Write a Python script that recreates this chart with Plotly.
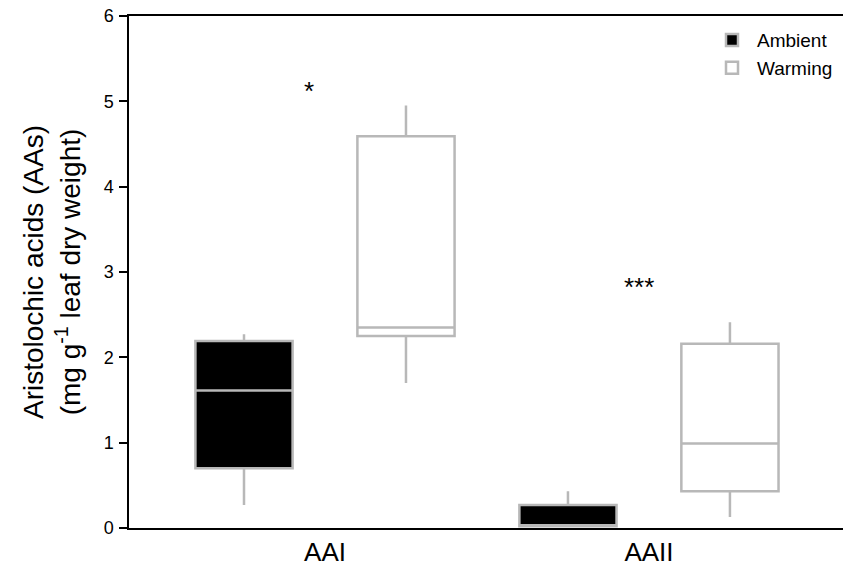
import plotly.graph_objects as go

categories = ["AAI", "AAII"]
series = ["Ambient", "Warming"]
# box statistics per series (order matches categories)
ambient_low = [0.27, 0.01]
ambient_q1 = [0.70, 0.02]
ambient_med = [1.61, 0.02]
ambient_q3 = [2.19, 0.27]
ambient_high = [2.27, 0.43]

warming_low = [1.70, 0.13]
warming_q1 = [2.25, 0.43]
warming_med = [2.35, 0.99]
warming_q3 = [4.59, 2.16]
warming_high = [4.95, 2.41]

sig_labels = ["*", "***"]
sig_y = [5.12, 2.82]

y_ticks = [0, 1, 2, 3, 4, 5, 6]

GRAY = "#b8b8b8"
FONT = "Liberation Sans, Arial, sans-serif"

# layout parameters: category slots on a numeric axis, series offset within slot
cat_idx = list(range(len(categories)))
series_offset = {"Ambient": -0.25, "Warming": 0.25}
box_w = 0.3

stats = {
    "Ambient": (ambient_low, ambient_q1, ambient_med, ambient_q3, ambient_high, "black"),
    "Warming": (warming_low, warming_q1, warming_med, warming_q3, warming_high, "white"),
}

fig = go.Figure()
for name in series:
    lo, q1, med, q3, hi, fill = stats[name]
    fig.add_trace(go.Box(
        name=name, x=[i + series_offset[name] for i in cat_idx],
        lowerfence=lo, q1=q1, median=med, q3=q3, upperfence=hi,
        width=box_w,
        fillcolor=fill, line=dict(color=GRAY, width=2.5),
        whiskerwidth=0, boxpoints=False, hoverinfo="skip",
    ))

shifts = [-0.05, -0.03]
for i, lab, yy, sh in zip(cat_idx, sig_labels, sig_y, shifts):
    fig.add_annotation(x=i + sh, y=yy, text=lab, showarrow=False,
                       font=dict(family=FONT, size=26, color="black"))

fig.update_layout(
    width=843, height=564,
    margin=dict(l=121, r=8, t=8, b=44, autoexpand=False),
    paper_bgcolor="white", plot_bgcolor="white",
    boxmode="overlay",
    font=dict(family=FONT, color="black"),
    legend=dict(x=0.993, y=0.99, xanchor="right", yanchor="top",
                bgcolor="rgba(0,0,0,0)", font=dict(size=19, family=FONT),
                itemwidth=40, tracegroupgap=0),
    xaxis=dict(
        range=[-0.605, 1.599], automargin=False,
        tickvals=cat_idx, ticktext=categories,
        showline=True, linecolor="black", linewidth=1.5, mirror=True,
        ticks="", showgrid=False, zeroline=False,
        tickfont=dict(size=26, family=FONT),
    ),
    yaxis=dict(
        range=[0, 6], tickvals=y_ticks, ticktext=[str(v) for v in y_ticks],
        automargin=False, ticklabeloverflow="allow",
        showline=True, linecolor="black", linewidth=1.5, mirror=True,
        ticks="outside", ticklen=8, tickwidth=1.5, tickcolor="black",
        ticklabelstandoff=2,
        showgrid=False, zeroline=False,
        tickfont=dict(size=18, family=FONT),
        title=dict(text="Aristolochic acids (AAs)<br>(mg g<sup>-1</sup> leaf dry weight)",
                   font=dict(size=28, family=FONT)),
    ),
)

fig.write_html("out.html")
